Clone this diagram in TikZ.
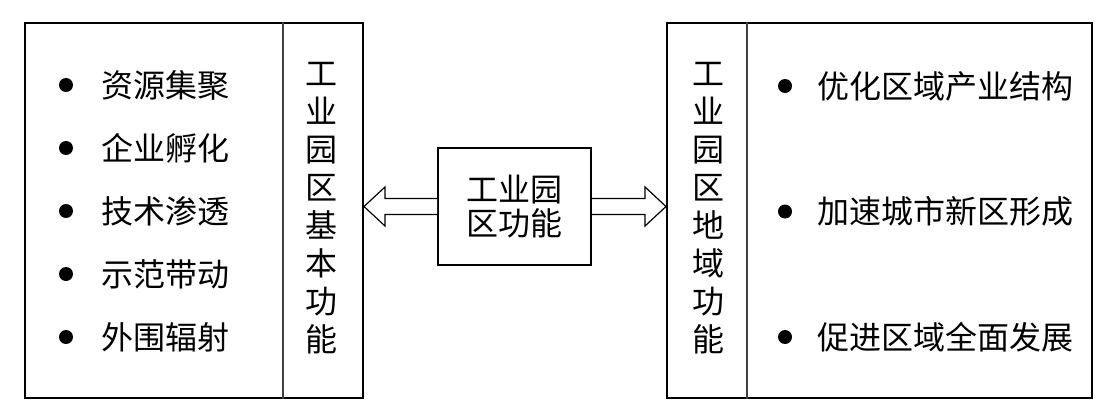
\documentclass[tikz,border=0pt]{standalone}
\usepackage{fontspec}
\setmainfont{Noto Sans CJK SC}
\usepackage{tikz}
\usetikzlibrary{calc}

\begin{document}
\begin{tikzpicture}[x=.5pt,y=.5pt]
          \tikzstyle{pbox}=[draw,line width=1pt,inner sep=0pt]
          \tikzstyle{edge}=[draw,line width=.6pt,black!75]
          \tikzstyle{hollow}=[draw,line width=.6pt,fill=white]
          \tikzstyle{dot}=[circle,fill=black,inner sep=0pt,minimum size=7pt]
          \tikzstyle{item}=[anchor=west,inner sep=0pt,font=\fontsize{16}{19}\selectfont]
          \tikzstyle{vtext}=[align=center,inner sep=0pt,font=\fontsize{16}{19}\selectfont]
          \useasboundingbox (0,0) rectangle (1119,419);
          \node[pbox,minimum width=169pt,minimum height=187.5pt] (basic) at (194,208.5) {};
          \node[pbox,minimum width=212.5pt,minimum height=187.5pt] (region) at (879.5,208.5) {};
          \node[pbox,minimum width=76.5pt,minimum height=58.5pt,align=center,
                font=\fontsize{16}{17}\selectfont] (core) at (514.5,212.5) {工业园\\区功能};
          \draw[edge] ($(basic.north east)+(-81,0)$) -- ($(basic.south east)+(-81,0)$);
          \draw[edge] ($(region.north west)+(81,0)$) -- ($(region.south west)+(81,0)$);
          \node[vtext] (bname) at (321,210.5) {工\\业\\园\\区\\基\\本\\功\\能};
          \node[vtext] (rname) at (708.5,210.5) {工\\业\\园\\区\\地\\域\\功\\能};
          \foreach \t [count=\i] in {资源集聚,企业孵化,技术渗透,示范带动,外围辐射}{
            \node[dot] (bl\i) at (66,{334-63*(\i-1)}) {};
            \node[item] (tl\i) at (101,{334-63*(\i-1)}) {\t};
            }
          \foreach \t [count=\i] in {优化区域产业结构,加速城市新区形成,促进区域全面发展}{
            \node[dot] (br\i) at (785,{333-125.5*(\i-1)}) {};
            \node[item] (tr\i) at (817,{333-125.5*(\i-1)}) {\t};
            }
          \coordinate (ltip) at (basic.east |- core.west);
          \coordinate (rtip) at (region.west |- core.east);
          \foreach \a/\b/\s in {core.west/ltip/1,core.east/rtip/-1}
            \draw[hollow] ($(\a)+(0,8)$) -- ($(\b)+(\s*21,8)$) -- ($(\b)+(\s*21,19.5)$)
              -- (\b) -- ($(\b)+(\s*21,-19.5)$) -- ($(\b)+(\s*21,-8)$) -- ($(\a)+(0,-8)$);
        \end{tikzpicture}
\end{document}
